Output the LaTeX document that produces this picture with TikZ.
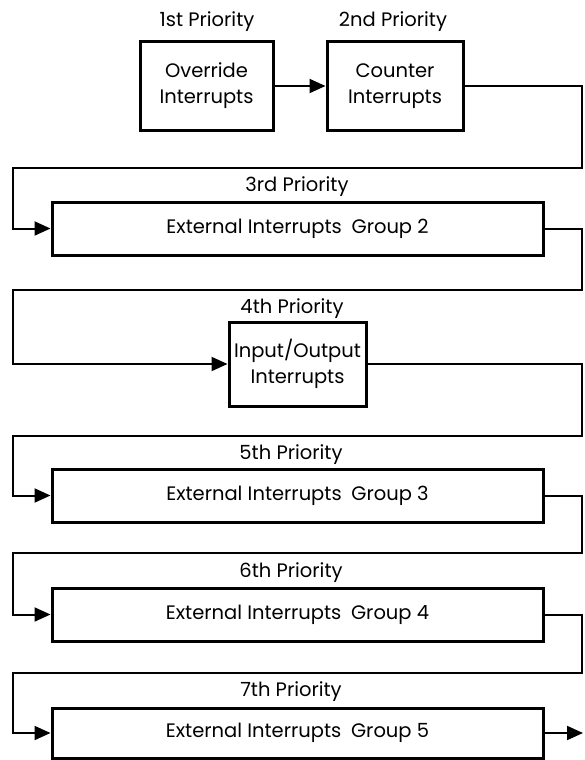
\documentclass[tikz,border=0pt]{standalone}
\usepackage{fontspec}
\setmainfont{Poppins}
\usetikzlibrary{arrows.meta}
\begin{document}
\begin{tikzpicture}[x=1pt,y=-1pt,
  every node/.style={font=\fontsize{19.5}{26}\selectfont},
  unit/.style={draw,line width=3pt,inner sep=0pt,align=center},
  prio/.style={anchor=base},
  flow/.style={line width=2pt,-{Triangle[length=16pt,width=14pt]}}]
\useasboundingbox (0,0) rectangle (584,760);
\node [unit,minimum width=133,minimum height=88] (ovr) at (206.5,86) {Override\\Interrupts};
\node [unit,minimum width=136,minimum height=88] (ctr) at (395,86) {Counter\\Interrupts};
\node [unit,minimum width=491,minimum height=53] (grp2) at (297.5,228.5) {External Interrupts\hspace{0.5em}Group 2};
\node [unit,minimum width=137,minimum height=84] (io) at (297.5,364) {Input/Output\\Interrupts};
\node [unit,minimum width=491,minimum height=53] (grp3) at (297.5,495.5) {External Interrupts\hspace{0.5em}Group 3};
\node [unit,minimum width=491,minimum height=53] (grp4) at (297.5,614.5) {External Interrupts\hspace{0.5em}Group 4};
\node [unit,minimum width=491,minimum height=50] (grp5) at (297.5,733) {External Interrupts\hspace{0.5em}Group 5};
\node [prio] (p1) at (207,27) {1st Priority};
\node [prio] (p2) at (393,27) {2nd Priority};
\node [prio] (p3) at (297,191) {3rd Priority};
\node [prio] (p4) at (292,313) {4th Priority};
\node [prio] (p5) at (291,459) {5th Priority};
\node [prio] (p6) at (291,577) {6th Priority};
\node [prio] (p7) at (291,696) {7th Priority};
\coordinate (r1) at (582,168); \coordinate (l1) at (13,168);
\coordinate (r2) at (582,290); \coordinate (l2) at (13,290);
\coordinate (r3) at (582,436); \coordinate (l3) at (13,436);
\coordinate (r4) at (582,553); \coordinate (l4) at (13,553);
\coordinate (r5) at (582,673); \coordinate (l5) at (13,673);
\coordinate (out) at (583,733);
\draw [flow] (ovr) -- (ctr);
\draw [flow] (ctr.east) -| (r1) -- (l1) |- (grp2.west);
\draw [flow] (grp2.east) -| (r2) -- (l2) |- (io.west);
\draw [flow] (io.east) -| (r3) -- (l3) |- (grp3.west);
\draw [flow] (grp3.east) -| (r4) -- (l4) |- (grp4.west);
\draw [flow] (grp4.east) -| (r5) -- (l5) |- (grp5.west);
\draw [flow] (grp5.east) -- (out);
\end{tikzpicture}
\end{document}
